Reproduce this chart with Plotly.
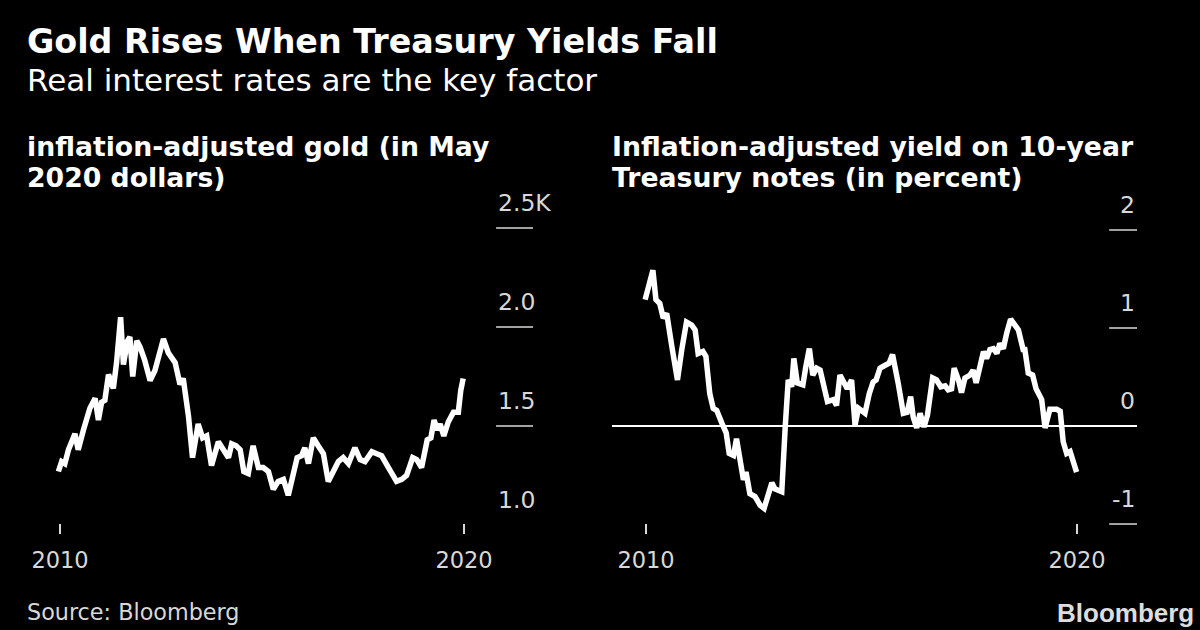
import plotly.graph_objects as go

# ---------------- data ----------------
gold_years = [2009.96, 2010.04, 2010.12, 2010.21, 2010.37, 2010.45, 2010.58, 2010.74, 2010.87, 2010.95,
              2011.03, 2011.11, 2011.20, 2011.32, 2011.40, 2011.50, 2011.57, 2011.67, 2011.73, 2011.80,
              2011.90, 2011.98, 2012.10, 2012.23, 2012.35, 2012.48, 2012.56, 2012.68, 2012.85, 2012.97,
              2013.05, 2013.18, 2013.28, 2013.42, 2013.53, 2013.63, 2013.75, 2013.92, 2014.04, 2014.17,
              2014.25, 2014.36, 2014.46, 2014.55, 2014.66, 2014.78, 2014.91, 2015.03, 2015.16, 2015.28,
              2015.40, 2015.53, 2015.65, 2015.77, 2015.87, 2015.98, 2016.06, 2016.15, 2016.27, 2016.39,
              2016.52, 2016.64, 2016.76, 2016.89, 2017.01, 2017.14, 2017.30, 2017.43, 2017.55, 2017.72,
              2017.84, 2017.96, 2018.13, 2018.33, 2018.46, 2018.58, 2018.73, 2018.83, 2018.95, 2019.09,
              2019.18, 2019.26, 2019.34, 2019.41, 2019.50, 2019.61, 2019.74, 2019.86, 2019.92, 2019.98]
gold_k = [1.27, 1.32, 1.31, 1.38, 1.46, 1.38, 1.48, 1.59, 1.64, 1.53,
          1.62, 1.63, 1.76, 1.69, 1.82, 2.05, 1.81, 1.93, 1.95, 1.75,
          1.93, 1.90, 1.83, 1.73, 1.78, 1.89, 1.94, 1.87, 1.82, 1.71,
          1.74, 1.55, 1.34, 1.51, 1.44, 1.45, 1.30, 1.42, 1.38, 1.34,
          1.41, 1.40, 1.38, 1.27, 1.26, 1.40, 1.29, 1.29, 1.27, 1.18,
          1.22, 1.23, 1.15, 1.26, 1.34, 1.35, 1.39, 1.31, 1.44, 1.40,
          1.36, 1.22, 1.27, 1.32, 1.34, 1.31, 1.39, 1.33, 1.32, 1.37,
          1.36, 1.35, 1.29, 1.22, 1.23, 1.25, 1.34, 1.33, 1.29, 1.43,
          1.44, 1.53, 1.48, 1.51, 1.45, 1.52, 1.57, 1.57, 1.68, 1.74]

yield_years = [2009.98, 2010.09, 2010.16, 2010.23, 2010.32, 2010.40, 2010.48, 2010.60, 2010.73, 2010.83,
               2010.94, 2011.06, 2011.14, 2011.21, 2011.32, 2011.39, 2011.48, 2011.56, 2011.64, 2011.76,
               2011.86, 2011.93, 2012.03, 2012.10, 2012.18, 2012.26, 2012.32, 2012.41, 2012.53, 2012.65,
               2012.74, 2012.84, 2012.92, 2012.99, 2013.15, 2013.23, 2013.30, 2013.38, 2013.43, 2013.51,
               2013.64, 2013.71, 2013.79, 2013.87, 2013.96, 2014.04, 2014.13, 2014.21, 2014.35, 2014.42,
               2014.50, 2014.59, 2014.67, 2014.77, 2014.85, 2014.93, 2015.00, 2015.08, 2015.18, 2015.27,
               2015.34, 2015.43, 2015.55, 2015.64, 2015.72, 2015.78, 2015.85, 2015.97, 2016.06, 2016.14,
               2016.20, 2016.28, 2016.36, 2016.45, 2016.53, 2016.65, 2016.74, 2016.84, 2016.94, 2017.01,
               2017.09, 2017.15, 2017.25, 2017.32, 2017.40, 2017.52, 2017.59, 2017.66, 2017.75, 2017.83,
               2017.90, 2017.98, 2018.06, 2018.14, 2018.21, 2018.29, 2018.37, 2018.46, 2018.56, 2018.64,
               2018.75, 2018.79, 2018.87, 2018.97, 2019.05, 2019.18, 2019.26, 2019.37, 2019.53, 2019.61,
               2019.68, 2019.76, 2019.84, 2019.92, 2019.99]
yield_pct = [1.29, 1.49, 1.59, 1.29, 1.25, 1.10, 1.15, 0.81, 0.47, 0.78,
             1.06, 1.03, 0.98, 0.74, 0.76, 0.71, 0.33, 0.18, 0.16, 0.03,
             -0.07, -0.28, -0.30, -0.13, -0.31, -0.55, -0.47, -0.69, -0.72, -0.81,
             -0.84, -0.69, -0.58, -0.64, -0.67, -0.01, 0.47, 0.40, 0.69, 0.44,
             0.42, 0.61, 0.79, 0.52, 0.59, 0.57, 0.40, 0.25, 0.27, 0.21,
             0.52, 0.45, 0.38, 0.47, 0.01, 0.18, 0.16, 0.13, 0.33, 0.45,
             0.47, 0.59, 0.62, 0.64, 0.73, 0.62, 0.44, 0.13, 0.14, 0.30,
             0.09, -0.02, 0.13, -0.01, 0.11, 0.49, 0.47, 0.40, 0.41, 0.37,
             0.38, 0.59, 0.47, 0.34, 0.49, 0.52, 0.57, 0.44, 0.61, 0.76,
             0.69, 0.78, 0.79, 0.74, 0.84, 0.79, 0.95, 1.09, 1.03, 0.98,
             0.78, 0.78, 0.54, 0.52, 0.38, 0.27, -0.02, 0.17, 0.17, 0.15,
             -0.16, -0.28, -0.26, -0.40, -0.47]

x_tick_vals = [2010, 2020]
x_tick_text = ["2010", "2020"]
gold_tick_vals = [1.0, 1.5, 2.0, 2.5]
gold_tick_text = ["1.0", "1.5", "2.0", "2.5K"]
gold_tick_lines = [1.5, 2.0, 2.5]
yield_tick_vals = [-1, 0, 1, 2]
yield_tick_text = ["-1", "0", "1", "2"]
yield_tick_lines = [-1, 1, 2]

title = "Gold Rises When Treasury Yields Fall"
subtitle = "Real interest rates are the key factor"
left_title = ["inflation-adjusted gold (in May", "2020 dollars)"]
right_title = ["Inflation-adjusted yield on 10-year", "Treasury notes (in percent)"]
source = "Source: Bloomberg"
logo = "Bloomberg"

# ---------------- layout helpers ----------------
W, H = 1200, 630
BG = "#000000"
FONT = "DejaVu Sans"
TICK_COLOR = "#d8d8d8"


def px(x):
    return x / W


def py(y):
    return 1 - y / H


fig = go.Figure()

fig.add_trace(go.Scatter(x=gold_years, y=gold_k, mode="lines", xaxis="x", yaxis="y",
                         line=dict(color="#ffffff", width=5.5), showlegend=False, hoverinfo="skip"))
fig.add_trace(go.Scatter(x=yield_years, y=yield_pct, mode="lines", xaxis="x2", yaxis="y2",
                         line=dict(color="#ffffff", width=5.5), showlegend=False, hoverinfo="skip"))

y_dom = [py(540), py(195)]
x_axis_common = dict(showgrid=False, zeroline=False, showline=False, tickmode="array",
                     tickvals=x_tick_vals, ticktext=x_tick_text, ticks="outside", ticklen=10,
                     tickwidth=1.5, tickcolor=TICK_COLOR, anchor="free", position=py(523),
                     tickfont=dict(family=FONT, size=22.5, color=TICK_COLOR), ticklabelstandoff=7,
                     fixedrange=True)

fig.update_layout(
    width=W, height=H,
    margin=dict(l=0, r=0, t=0, b=0),
    paper_bgcolor=BG, plot_bgcolor=BG,
    xaxis=dict(domain=[px(27), px(533)], range=[2009.183, 2021.708], **x_axis_common),
    xaxis2=dict(domain=[px(612), px(1137)], range=[2009.211, 2021.392], **x_axis_common),
    yaxis=dict(domain=y_dom, anchor="x", range=[0.924, 2.667], showgrid=False, zeroline=False,
               showticklabels=False, showline=False, fixedrange=True),
    yaxis2=dict(domain=y_dom, anchor="x2", range=[-1.163, 2.357], showgrid=False, zeroline=True,
                zerolinecolor="#ffffff", zerolinewidth=1.5, showticklabels=False, showline=False,
                fixedrange=True),
)

# short horizontal tick lines on the right of each panel
for v in gold_tick_lines:
    fig.add_shape(type="line", xref="x domain", yref="y", x0=0.927, x1=1.0, y0=v, y1=v,
                  line=dict(color=TICK_COLOR, width=1.5))
for v in yield_tick_lines:
    fig.add_shape(type="line", xref="x2 domain", yref="y2", x0=0.947, x1=1.0, y0=v, y1=v,
                  line=dict(color=TICK_COLOR, width=1.5))

# y tick labels sitting above the tick lines
for v, t in zip(gold_tick_vals, gold_tick_text):
    fig.add_annotation(xref="x domain", yref="y", x=0.927, y=v, text=t, showarrow=False,
                       xanchor="left", yanchor="middle", yshift=25,
                       font=dict(family=FONT, size=23.5, color=TICK_COLOR))
for v, t in zip(yield_tick_vals, yield_tick_text):
    fig.add_annotation(xref="x2 domain", yref="y2", x=1.0, y=v, text=t, showarrow=False,
                       xanchor="right", yanchor="middle", yshift=25,
                       font=dict(family=FONT, size=23.5, color=TICK_COLOR))


def text(x, y, s, size, bold=False, color="#ffffff", family=FONT, anchor="left", yanchor="middle"):
    fig.add_annotation(xref="paper", yref="paper", x=px(x), y=py(y), text=s, showarrow=False,
                       xanchor=anchor, yanchor=yanchor,
                       font=dict(family=family, size=size, color=color,
                                 weight="bold" if bold else "normal"))


text(25, 42, title, 33.3, bold=True)
text(25, 80, subtitle, 31)
text(25, 146, left_title[0], 26.7, bold=True)
text(25, 177, left_title[1], 26.7, bold=True)
text(610, 146, right_title[0], 26.7, bold=True)
text(610, 177, right_title[1], 26.7, bold=True)
text(25, 612, source, 22.3, color=TICK_COLOR)
text(1196, 630, logo, 26, bold=True, color="#dddddd", family="Liberation Sans",
     anchor="right", yanchor="bottom")

fig.write_html("out.html")
